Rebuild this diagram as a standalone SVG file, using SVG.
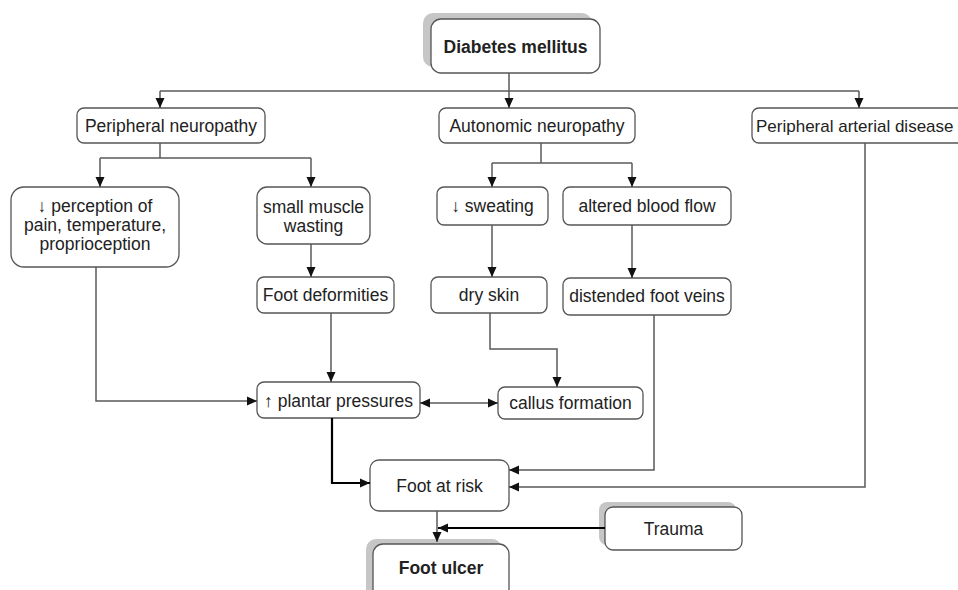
<svg xmlns="http://www.w3.org/2000/svg" width="958" height="590" viewBox="0 0 958 590">
<defs>
<marker id="ah" markerUnits="userSpaceOnUse" markerWidth="10" markerHeight="10" viewBox="0 0 10 10" refX="10" refY="5" orient="auto-start-reverse">
<path d="M0,0.5 L10,5 L0,9.5 Z" fill="#111"/>
</marker>
<style>
.box{fill:#fff;stroke:#555;stroke-width:1.3}
.sh{fill:#c6c6c6;stroke:none}
.t{font-family:"Liberation Sans",Arial,Helvetica,sans-serif;font-size:17.5px;fill:#222;text-anchor:middle}
.b{font-weight:bold}
.c{fill:none;stroke:#5a5a5a;stroke-width:1.5}
.k{fill:none;stroke:#000;stroke-width:2.2}
</style>
</defs>
<rect width="958" height="590" fill="#fff"/>
<g id="diabetes">
<rect class="sh" x="423" y="13" width="169" height="54" rx="10"/>
<rect class="box" x="431" y="19" width="169" height="54" rx="10"/>
<text class="t b" x="515.5" y="53">Diabetes mellitus</text>
</g>
<g id="peripheral-neuropathy">
<rect class="box" x="77" y="108" width="188" height="35" rx="7"/>
<text class="t" x="171" y="131.5">Peripheral neuropathy</text>
</g>
<g id="autonomic-neuropathy">
<rect class="box" x="439" y="108" width="196" height="35" rx="7"/>
<text class="t" x="537" y="131.5">Autonomic neuropathy</text>
</g>
<g id="pad">
<rect class="box" x="752" y="108" width="220" height="35" rx="7"/>
<text class="t" x="756" y="131.5" style="text-anchor:start;font-size:17px">Peripheral arterial disease</text>
</g>
<g id="perception">
<rect class="box" x="11" y="187" width="168" height="80" rx="13"/>
<text class="t" x="95" y="211.5">↓ perception of</text>
<text class="t" x="95" y="230.5">pain, temperature,</text>
<text class="t" x="95" y="249.5">proprioception</text>
</g>
<g id="muscle-wasting">
<rect class="box" x="257" y="187" width="113" height="57" rx="10"/>
<text class="t" x="313.5" y="212.5">small muscle</text>
<text class="t" x="313.5" y="231.5">wasting</text>
</g>
<g id="sweating">
<rect class="box" x="437" y="187" width="111" height="38" rx="7"/>
<text class="t" x="492.5" y="212">↓ sweating</text>
</g>
<g id="blood-flow">
<rect class="box" x="563" y="187" width="168" height="38" rx="7"/>
<text class="t" x="647" y="212">altered blood flow</text>
</g>
<g id="foot-deformities">
<rect class="box" x="257" y="277" width="137" height="36" rx="7"/>
<text class="t" x="325.5" y="301">Foot deformities</text>
</g>
<g id="dry-skin">
<rect class="box" x="431" y="277" width="116" height="36" rx="7"/>
<text class="t" x="489" y="300.5">dry skin</text>
</g>
<g id="foot-veins">
<rect class="box" x="563" y="278" width="168" height="37" rx="7"/>
<text class="t" x="647" y="302">distended foot veins</text>
</g>
<g id="plantar">
<rect class="box" x="257" y="382" width="163" height="36" rx="7"/>
<text class="t" x="338.5" y="407">↑ plantar pressures</text>
</g>
<g id="callus">
<rect class="box" x="498" y="387" width="145" height="32" rx="7"/>
<text class="t" x="570.5" y="408.5">callus formation</text>
</g>
<g id="foot-at-risk">
<rect class="box" x="370" y="460" width="139" height="51" rx="9"/>
<text class="t" x="439.5" y="492">Foot at risk</text>
</g>
<g id="trauma">
<rect class="sh" x="599" y="502" width="137" height="43" rx="8"/>
<rect class="box" x="605" y="507" width="137" height="43" rx="8"/>
<text class="t" x="673.5" y="534.5">Trauma</text>
</g>
<g id="foot-ulcer">
<rect class="sh" x="366" y="539" width="136" height="60" rx="10"/>
<rect class="box" x="373" y="544" width="136" height="60" rx="10"/>
<text class="t b" x="441" y="574">Foot ulcer</text>
</g>
<g id="connectors">
<path class="c" d="M509,73 V108" marker-end="url(#ah)"/>
<path class="c" d="M160,91 H859"/>
<path class="c" d="M160,91 V108" marker-end="url(#ah)"/>
<path class="c" d="M859,91 V108" marker-end="url(#ah)"/>
<path class="c" d="M160,143 V158"/>
<path class="c" d="M100,158 H311"/>
<path class="c" d="M100,158 V187" marker-end="url(#ah)"/>
<path class="c" d="M311,158 V187" marker-end="url(#ah)"/>
<path class="c" d="M541,143 V163"/>
<path class="c" d="M492,163 H632"/>
<path class="c" d="M492,163 V187" marker-end="url(#ah)"/>
<path class="c" d="M632,163 V187" marker-end="url(#ah)"/>
<path class="c" d="M311,244 V277" marker-end="url(#ah)"/>
<path class="c" d="M492,225 V277" marker-end="url(#ah)"/>
<path class="c" d="M632,225 V278" marker-end="url(#ah)"/>
<path class="c" d="M331,313 V382" marker-end="url(#ah)"/>
<path class="c" d="M96,267 V401 H257" marker-end="url(#ah)"/>
<path class="c" d="M490,313 V349 H557 V387" marker-end="url(#ah)"/>
<path class="c" d="M420,403 H498" marker-start="url(#ah)" marker-end="url(#ah)"/>
<path class="k" d="M332,418 V483 H370" marker-end="url(#ah)"/>
<path class="c" d="M654,315 V470 H509" marker-end="url(#ah)"/>
<path class="c" d="M865,143 V487 H509" marker-end="url(#ah)"/>
<path class="c" d="M437,511 V542" marker-end="url(#ah)"/>
<path class="k" d="M605,528 H438" marker-end="url(#ah)"/>
</g>
</svg>
